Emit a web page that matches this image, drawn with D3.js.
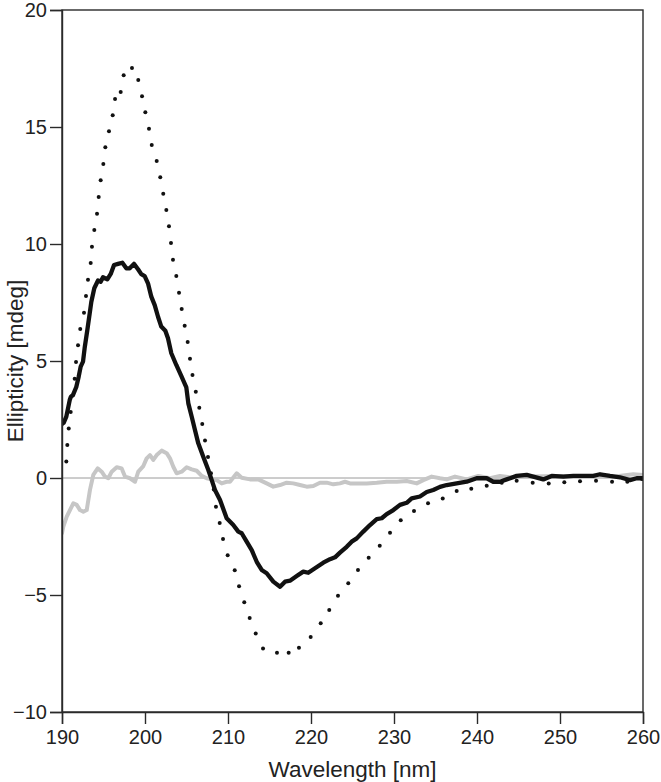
<!DOCTYPE html>
<html>
<head>
<meta charset="utf-8">
<script src="https://cdn.jsdelivr.net/npm/d3@7"></script>
<style>
  html, body { margin: 0; padding: 0; background: #fff; }
  svg { display: block; }
  text { font-family: Arial, "Liberation Sans", Helvetica, sans-serif; fill: #222; }
</style>
</head>
<body>
<svg id="chart" width="661" height="782"></svg>
<script>
// ---- Data ----
const xTicks = [190, 200, 210, 220, 230, 240, 250, 260];
const yTicks = [-10, -5, 0, 5, 10, 15, 20];
const xLabel = "Wavelength [nm]";
const yLabel = "Ellipticity [mdeg]";

// dotted series (each dot)
const dotWl = [190.52,190.64,190.81,191.05,191.29,191.53,191.69,191.93,192.20,192.65,192.89,193.13,193.46,193.61,193.89,194.22,194.42,194.66,194.98,195.22,195.66,196.11,196.39,197.07,197.43,198.43,199.19,199.64,200.04,200.48,200.81,201.41,201.84,202.20,202.57,202.89,203.13,203.37,203.77,204.10,204.42,204.78,205.14,205.42,205.72,206.12,206.54,206.90,207.23,207.59,207.95,208.29,208.55,209.00,209.40,209.96,210.81,211.33,211.96,212.61,213.34,214.22,215.90,217.31,218.55,219.96,221.17,222.20,223.25,224.49,225.66,226.95,228.28,229.52,230.81,232.41,234.10,235.87,237.55,239.31,241.17,242.98,244.78,246.71,248.64,250.52,252.41,254.34,256.27,258.11,259.88];
const dotVal = [0.70,1.41,2.12,2.82,3.53,4.24,4.96,5.67,6.37,7.06,7.78,8.47,9.19,9.88,10.60,11.29,12.01,12.72,13.42,14.13,14.82,15.50,16.20,16.50,17.21,17.52,17.01,16.31,15.63,14.93,14.23,13.55,12.85,12.15,11.45,10.76,10.04,9.33,8.63,7.92,7.22,6.51,5.81,5.10,4.40,3.69,3.00,2.31,1.60,0.90,0.20,-0.49,-1.23,-1.92,-2.61,-3.30,-3.94,-4.63,-5.31,-5.98,-6.64,-7.29,-7.47,-7.47,-7.25,-6.79,-6.21,-5.64,-5.03,-4.50,-3.93,-3.41,-2.89,-2.34,-1.81,-1.41,-1.08,-0.88,-0.56,-0.46,-0.33,-0.20,-0.12,-0.20,-0.23,-0.18,-0.14,-0.12,-0.16,-0.16,-0.04];

// solid black series
const solidWl = [190.00,190.20,190.52,190.93,191.08,191.33,191.72,192.01,192.25,192.53,192.73,193.05,193.34,193.53,193.89,194.34,194.66,194.94,195.46,195.87,196.27,196.75,197.27,197.75,198.16,198.67,199.16,199.55,199.96,200.36,200.76,201.17,201.57,201.96,202.45,202.77,203.17,203.77,204.37,204.98,205.22,205.63,206.02,206.42,207.02,207.63,208.04,208.43,209.04,209.84,210.64,211.24,211.65,212.25,212.86,213.46,214.06,214.66,215.46,216.27,216.87,217.47,218.28,219.07,219.67,220.48,221.48,222.29,222.89,223.49,224.30,224.90,225.51,226.30,227.11,227.92,228.52,229.12,229.92,230.72,231.53,232.13,233.13,233.94,234.73,235.54,236.35,237.55,238.76,239.96,241.17,241.96,242.77,243.58,244.78,245.99,246.78,247.99,249.00,250.40,251.60,252.81,254.01,254.82,256.02,257.23,258.43,259.24,260.00];
const solidVal = [2.31,2.36,2.62,3.33,3.48,3.55,3.89,4.33,4.76,4.97,5.56,6.32,7.04,7.52,8.11,8.44,8.39,8.58,8.49,8.72,9.10,9.15,9.20,8.96,8.96,9.15,8.92,8.71,8.63,8.32,7.75,7.39,6.89,6.47,6.29,5.97,5.33,4.83,4.36,3.87,3.19,2.62,2.05,1.48,0.91,0.34,-0.09,-0.51,-0.94,-1.72,-2.01,-2.29,-2.36,-2.72,-3.08,-3.58,-3.93,-4.07,-4.43,-4.65,-4.43,-4.39,-4.19,-4.00,-4.05,-3.86,-3.62,-3.47,-3.39,-3.19,-2.94,-2.72,-2.58,-2.29,-2.01,-1.76,-1.72,-1.54,-1.37,-1.15,-1.06,-0.87,-0.79,-0.60,-0.51,-0.38,-0.30,-0.23,-0.16,-0.01,-0.01,-0.16,-0.16,-0.06,0.09,0.13,0.06,-0.06,0.09,0.06,0.09,0.09,0.09,0.16,0.09,0.03,-0.09,-0.01,-0.01];

// light grey series
const grayWl = [190.00,190.16,190.57,190.96,191.36,191.77,192.17,192.57,192.98,193.37,193.77,194.30,194.78,195.18,195.58,195.99,196.59,197.19,197.59,198.19,198.80,199.19,199.80,200.20,200.60,201.00,201.41,202.01,202.61,203.01,203.41,203.82,204.42,205.02,205.63,206.23,206.83,207.43,208.04,208.64,209.24,209.84,210.24,211.05,211.65,212.65,213.65,214.66,215.46,216.27,217.07,217.87,218.67,219.48,220.28,221.08,221.89,222.69,223.49,224.10,224.70,225.51,226.71,227.92,229.12,230.33,231.53,232.73,233.53,234.54,235.54,236.35,237.35,238.76,240.16,241.57,242.77,243.98,246.39,250.00,253.61,256.63,258.83,260.00];
const grayVal = [-2.35,-2.08,-1.65,-1.37,-1.08,-1.15,-1.37,-1.44,-1.37,-0.51,0.13,0.41,0.27,0.06,-0.01,0.27,0.46,0.41,0.06,-0.01,-0.16,0.27,0.51,0.84,0.98,0.77,0.98,1.17,1.06,0.84,0.48,0.20,0.27,0.46,0.37,0.31,0.09,-0.01,-0.06,-0.09,-0.23,-0.16,-0.16,0.20,0.01,-0.06,-0.06,-0.23,-0.37,-0.30,-0.20,-0.23,-0.30,-0.37,-0.34,-0.20,-0.20,-0.27,-0.23,-0.16,-0.23,-0.23,-0.23,-0.20,-0.16,-0.16,-0.13,-0.23,-0.09,0.06,-0.01,-0.06,0.06,-0.06,0.09,-0.01,0.09,0.03,0.06,0.09,0.09,0.06,0.16,0.13];

// ---- Layout ----
const W = 661, H = 782;
const margin = { left: 62, top: 10, right: 18, bottom: 70 };
const iw = W - margin.left - margin.right;
const ih = H - margin.top - margin.bottom;

const svg = d3.select("#chart");
const g = svg.append("g").attr("transform", `translate(${margin.left},${margin.top})`);

const x = d3.scaleLinear().domain([190, 260]).range([0, iw]);
const y = d3.scaleLinear().domain([-10, 20]).range([ih, 0]);

const axisColor = "#2a2a2a";

// zero reference line
g.append("line")
  .attr("x1", x(190)).attr("x2", x(260))
  .attr("y1", y(0)).attr("y2", y(0))
  .attr("stroke", "#9a9a9a").attr("stroke-width", 1);

const line = d3.line().x(d => x(d[0])).y(d => y(d[1]));

g.append("defs").append("clipPath").attr("id", "clip")
  .append("rect").attr("x", 0).attr("y", 0).attr("width", iw).attr("height", ih);

const plot = g.append("g").attr("clip-path", "url(#clip)");

plot.append("path")
  .datum(grayWl.map((w, i) => [w, grayVal[i]]))
  .attr("d", line)
  .attr("fill", "none")
  .attr("stroke", "#c6c6c6")
  .attr("stroke-width", 4)
  .attr("stroke-linejoin", "round")
  .attr("stroke-linecap", "round");

plot.append("path")
  .datum(solidWl.map((w, i) => [w, solidVal[i]]))
  .attr("d", line)
  .attr("fill", "none")
  .attr("stroke", "#111")
  .attr("stroke-width", 4.3)
  .attr("stroke-linejoin", "round")
  .attr("stroke-linecap", "round");

plot.selectAll("circle.dot")
  .data(dotWl.map((w, i) => [w, dotVal[i]]))
  .join("circle")
  .attr("class", "dot")
  .attr("cx", d => x(d[0]))
  .attr("cy", d => y(d[1]))
  .attr("r", 2)
  .attr("fill", "#111");

// frame
g.append("rect")
  .attr("x", 0).attr("y", 0).attr("width", iw).attr("height", ih)
  .attr("fill", "none").attr("stroke", axisColor).attr("stroke-width", 1.4);

// axes
const xAxis = g.append("g").attr("transform", `translate(0,${ih})`)
  .call(d3.axisBottom(x).tickValues(xTicks).tickSize(12).tickPadding(6).tickFormat(d3.format("d")));
const yAxis = g.append("g")
  .call(d3.axisLeft(y).tickValues(yTicks).tickSize(12).tickPadding(3).tickFormat(d => d < 0 ? "\u2212" + Math.abs(d) : d));

[xAxis, yAxis].forEach(a => {
  a.select(".domain").attr("stroke", axisColor).attr("stroke-width", 1.4);
  a.selectAll(".tick line").attr("stroke", axisColor).attr("stroke-width", 1.4);
  a.selectAll(".tick text").attr("font-size", 20).attr("fill", "#222")
    .attr("font-family", "Arial, 'Liberation Sans', Helvetica, sans-serif");
});

// axis titles
svg.append("text")
  .attr("x", margin.left + iw / 2)
  .attr("y", 777)
  .attr("text-anchor", "middle")
  .attr("font-size", 22.5)
  .text(xLabel);

svg.append("text")
  .attr("transform", `translate(23,${margin.top + ih / 2}) rotate(-90)`)
  .attr("text-anchor", "middle")
  .attr("font-size", 22.5)
  .text(yLabel);
</script>
</body>
</html>
